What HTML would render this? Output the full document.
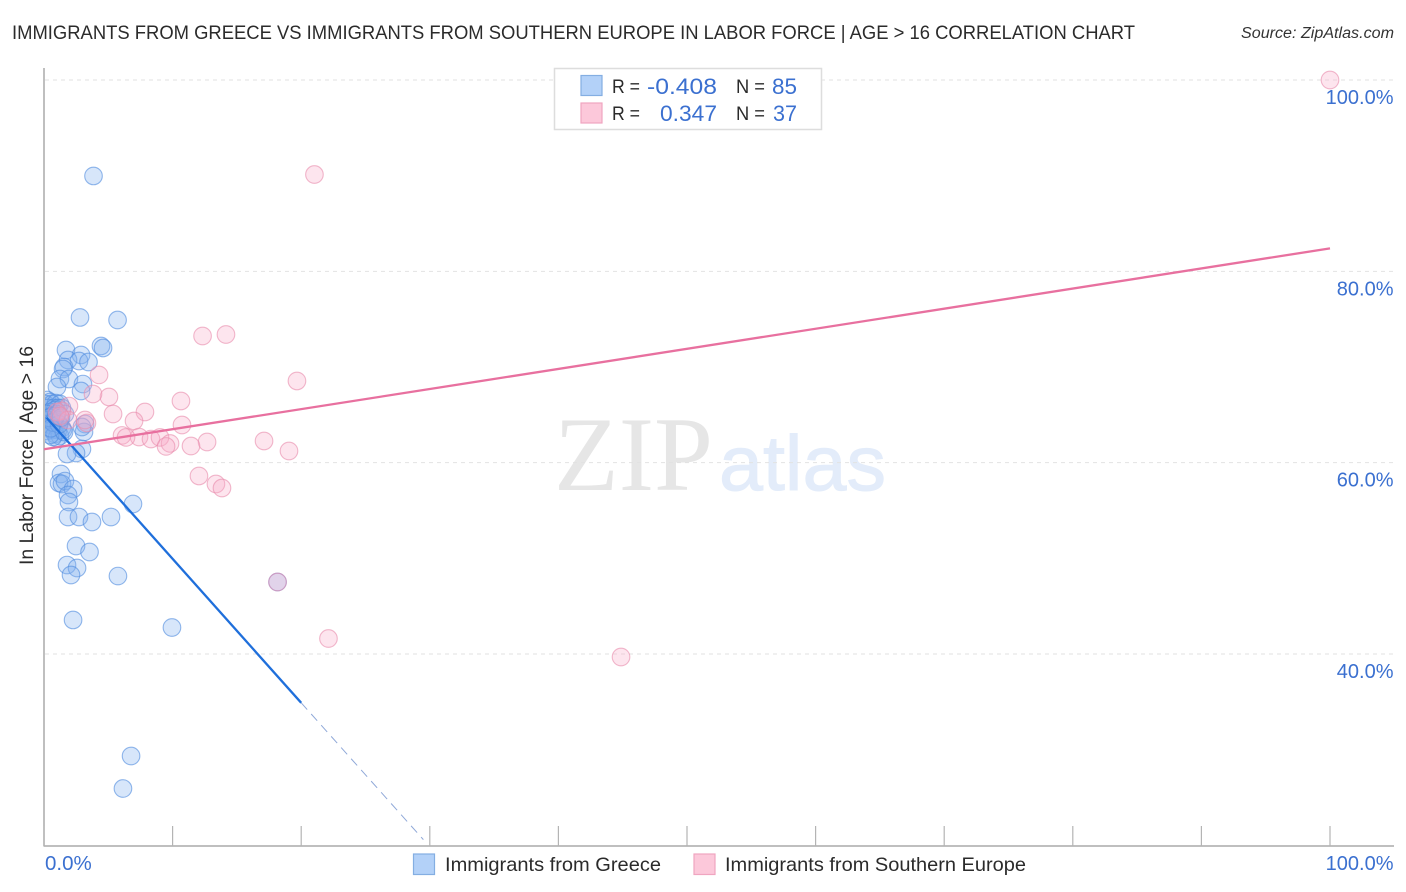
<!DOCTYPE html>
<html>
<head>
<meta charset="utf-8">
<style>
html,body{margin:0;padding:0;background:#fff;}
svg{display:block;font-family:"Liberation Sans",sans-serif;}
</style>
</head>
<body>
<svg id="chart" width="1406" height="892" viewBox="0 0 1406 892" xmlns="http://www.w3.org/2000/svg">
  <defs><clipPath id="plot-clip"><rect x="45" y="0" width="1361" height="892"/></clipPath></defs>
  <text x="12" y="39" font-size="19.5" fill="#2b2b2b" textLength="1123" lengthAdjust="spacingAndGlyphs">IMMIGRANTS FROM GREECE VS IMMIGRANTS FROM SOUTHERN EUROPE IN LABOR FORCE | AGE &gt; 16 CORRELATION CHART</text>
  <text x="1241" y="38" font-size="15.5" font-style="italic" fill="#333" textLength="153" lengthAdjust="spacingAndGlyphs">Source: ZipAtlas.com</text>

  <g>
    <text x="554" y="490" font-family="'Liberation Serif',serif" font-size="106" fill="#e6e6e6" textLength="159" lengthAdjust="spacingAndGlyphs">ZIP</text>
    <text x="719" y="490" font-size="78" fill="#e3ecfa" stroke="#e3ecfa" stroke-width="1" textLength="167" lengthAdjust="spacingAndGlyphs">atlas</text>
  </g>

  <g id="grid"></g>
  <g id="axes"></g>
  <g id="blue-points" clip-path="url(#plot-clip)"></g>
  <g id="pink-points" clip-path="url(#plot-clip)"></g>
  <g id="trends"></g>
  <g id="labels"></g>

  <text transform="translate(33,565) rotate(-90)" font-size="19" fill="#2b2b2b" textLength="219" lengthAdjust="spacingAndGlyphs">In Labor Force | Age &gt; 16</text>

  <g>
    <rect x="554.5" y="68.5" width="267" height="61" fill="#fff" stroke="#ddd" stroke-width="1.5"/>
    <rect x="581" y="75.5" width="21" height="20" fill="#b3d1f8" stroke="#84aee2" stroke-width="1.2"/>
    <rect x="581" y="103" width="21" height="20" fill="#fcc8da" stroke="#f0a5c0" stroke-width="1.2"/>
    <text x="612" y="93" font-size="19.5" fill="#2b2b2b" textLength="28" lengthAdjust="spacingAndGlyphs">R =</text>
    <text x="647" y="94" font-size="22.5" fill="#3b70d0" textLength="70" lengthAdjust="spacingAndGlyphs">-0.408</text>
    <text x="736" y="93" font-size="19.5" fill="#2b2b2b" textLength="29" lengthAdjust="spacingAndGlyphs">N =</text>
    <text x="772" y="94" font-size="22.5" fill="#3b70d0" textLength="25" lengthAdjust="spacingAndGlyphs">85</text>
    <text x="612" y="120" font-size="19.5" fill="#2b2b2b" textLength="28" lengthAdjust="spacingAndGlyphs">R =</text>
    <text x="660" y="121" font-size="22.5" fill="#3b70d0" textLength="57" lengthAdjust="spacingAndGlyphs">0.347</text>
    <text x="736" y="120" font-size="19.5" fill="#2b2b2b" textLength="29" lengthAdjust="spacingAndGlyphs">N =</text>
    <text x="773" y="121" font-size="22.5" fill="#3b70d0" textLength="24" lengthAdjust="spacingAndGlyphs">37</text>
  </g>

  <g>
    <rect x="413.5" y="854" width="21" height="20.5" fill="#b3d1f8" stroke="#84aee2" stroke-width="1.2"/>
    <text x="445" y="871" font-size="19.5" fill="#2b2b2b" textLength="216" lengthAdjust="spacingAndGlyphs">Immigrants from Greece</text>
    <rect x="694" y="854" width="21" height="20.5" fill="#fcc8da" stroke="#f0a5c0" stroke-width="1.2"/>
    <text x="725" y="871" font-size="19.5" fill="#2b2b2b" textLength="301" lengthAdjust="spacingAndGlyphs">Immigrants from Southern Europe</text>
  </g>
</svg>
<script>
var yTicks = [100, 80, 60, 40];
var yTickLabels = ["100.0%", "80.0%", "60.0%", "40.0%"];
var xTicks = [0, 10, 20, 30, 40, 50, 60, 70, 80, 90, 100];
var xEndValues = [0, 100];
var xEndLabels = ["0.0%", "100.0%"];

var greeceX = [3.85,2.80,5.72,4.43,4.59,1.71,2.88,1.87,2.72,3.46,1.56,1.48,1.24,1.94,3.03,1.01,2.88,3.19,3.11,2.95,2.95,2.49,1.79,1.32,1.17,1.40,1.63,2.26,1.87,1.94,6.92,1.87,2.72,3.73,5.21,2.49,3.54,1.79,2.57,2.10,5.75,2.26,9.95,6.77,6.14,18.16,
  0.23,0.47,0.08,0.62,0.93,1.24,0.31,0.78,1.09,0.47,0.86,1.40,1.63,0.16,0.62,1.01,0.31,0.78,1.24,0.08,0.47,0.93,1.40,0.62,1.09,0.23,0.86,1.24,1.01,1.48,0.70,0.47,1.56,0.39,0.70,1.17,0.54,0.93,1.32];
var greeceY = [89.97,75.18,74.91,72.2,71.99,71.78,71.26,70.73,70.63,70.52,70.0,69.79,68.75,68.75,68.22,67.91,67.49,64.04,63.21,63.73,61.43,61.01,60.91,58.82,57.88,57.77,58.08,57.25,56.62,55.89,55.68,54.32,54.32,53.8,54.32,51.29,50.66,49.3,48.99,48.26,48.15,43.56,42.77,29.34,25.94,47.53,
  66.55,66.34,66.13,66.13,66.23,66.13,65.72,65.72,65.72,65.30,65.51,65.72,65.09,65.09,64.88,65.09,64.46,64.36,64.46,64.04,63.94,63.83,63.62,63.42,63.42,63.31,63.0,62.79,62.58,63.42,62.68,62.89,63.21,64.7,64.2,64.0,63.6,64.9,64.7];

var europeX = [100,21.03,14.15,12.33,19.67,4.28,10.65,5.05,3.81,7.85,5.37,7.0,10.73,3.34,1.94,1.40,1.01,7.39,8.32,12.68,11.43,17.11,19.05,6.07,6.38,9.02,9.8,9.49,12.05,13.37,13.84,18.16,22.12,44.87,1.87,3.19,1.24];
var europeY = [100,90.12,73.4,73.24,68.54,69.17,66.45,66.87,67.18,65.3,65.09,64.36,63.94,64.15,65.92,65.4,65.3,62.68,62.47,62.16,61.74,62.27,61.22,62.85,62.64,62.64,62.01,61.7,58.61,57.77,57.35,47.53,41.62,39.69,64.46,64.46,64.88];

var greeceTrendSolidX = [0.2, 20];
var greeceTrendSolidY = [64.7, 34.9];
var greeceTrendDashX = [20, 29.5];
var greeceTrendDashY = [34.9, 20.6];
var europeTrendX = [0, 100];
var europeTrendY = [61.4, 82.4];

var NS = "http://www.w3.org/2000/svg";
function xScale(v) { return 44 + v * 12.86; }
function yScale(v) { return 80 + (100 - v) * 9.567; }
function mk(tag, parentId, attrs) {
  var el = document.createElementNS(NS, tag);
  for (var k in attrs) { el.setAttribute(k, attrs[k]); }
  document.getElementById(parentId).appendChild(el);
  return el;
}

yTicks.forEach(function (t, i) {
  var g = mk("line", "grid", {x1: 45, x2: 1394, y1: yScale(t), y2: yScale(t), stroke: "#e2e2e2", "stroke-width": 1, "stroke-dasharray": "4 4"});
  
  
  var l = mk("text", "labels", {x: 1393.5, y: yScale(t) + 24, "font-size": 20, fill: "#3b70d0", "text-anchor": "end"});
  l.textContent = yTickLabels[i];
  
  
});

var yAxis = mk("line", "axes", {x1: 44, x2: 44, y1: 68, y2: 846.5, stroke: "#aaa", "stroke-width": 1.5});


var xAxis = mk("line", "axes", {x1: 44, x2: 1394, y1: 846, y2: 846, stroke: "#aaa", "stroke-width": 1.5});


xTicks.forEach(function (t) {
  var k = mk("line", "axes", {x1: xScale(t), x2: xScale(t), y1: 826, y2: 846, stroke: "#b4b4b4", "stroke-width": 1.2});
  
  
});
xEndValues.forEach(function (t, i) {
  var l = mk("text", "labels", {x: i === 0 ? xScale(t) + 1 : 1393.5, y: 870, "font-size": i === 0 ? 20.5 : 20, fill: "#3b70d0", "text-anchor": i === 0 ? "start" : "end"});
  l.textContent = xEndLabels[i];
  
  
});

greeceX.forEach(function (v, i) {
  var c = mk("circle", "blue-points", {cx: xScale(v), cy: yScale(greeceY[i]), r: 8.8, fill: "rgba(130,178,240,0.32)", stroke: "rgba(80,140,222,0.62)", "stroke-width": 1.1});
  
  
});
europeX.forEach(function (v, i) {
  var c = mk("circle", "pink-points", {cx: xScale(v), cy: yScale(europeY[i]), r: 8.8, fill: "rgba(248,170,198,0.3)", stroke: "rgba(232,140,172,0.62)", "stroke-width": 1.1});
  
  
});

var t1 = mk("line", "trends", {x1: xScale(greeceTrendSolidX[0]), y1: yScale(greeceTrendSolidY[0]), x2: xScale(greeceTrendSolidX[1]), y2: yScale(greeceTrendSolidY[1]), stroke: "#1f6fdb", "stroke-width": 2.3});


var t2 = mk("line", "trends", {x1: xScale(greeceTrendDashX[0]), y1: yScale(greeceTrendDashY[0]), x2: xScale(greeceTrendDashX[1]), y2: yScale(greeceTrendDashY[1]), stroke: "#8fa8d8", "stroke-width": 1, "stroke-dasharray": "9 6"});


var t3 = mk("line", "trends", {x1: xScale(europeTrendX[0]), y1: yScale(europeTrendY[0]), x2: xScale(europeTrendX[1]), y2: yScale(europeTrendY[1]), stroke: "#e8709f", "stroke-width": 2.3});


</script>
</body>
</html>
